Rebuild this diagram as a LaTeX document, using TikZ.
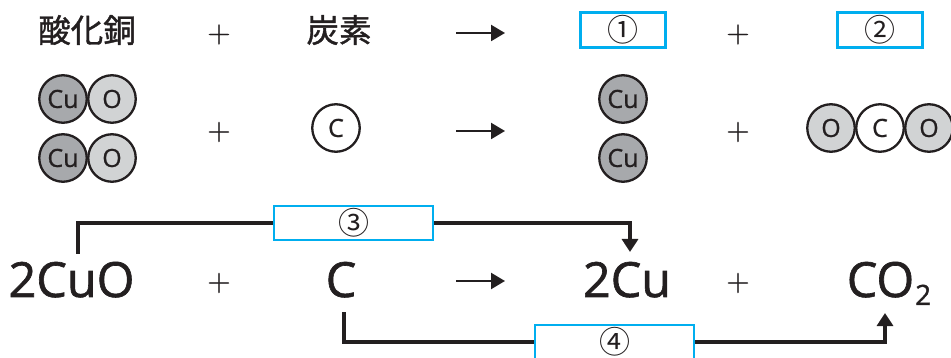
\documentclass[tikz,border=0pt]{standalone}
\usepackage{fontspec}
\setmainfont{Open Sans}
\newfontfamily\cjk{Noto Sans CJK JP}
\newfontfamily\cjkbold[FakeBold=1.2]{Noto Sans CJK JP}
\newfontfamily\heavy[FakeBold=1.3]{Open Sans}
\newfontfamily\medium[FakeBold=0.7]{Open Sans}
\newfontfamily\plusfont[FakeBold=0.8]{Latin Modern Roman}
\usetikzlibrary{arrows.meta}
\definecolor{ink}{HTML}{231F20}
\definecolor{cyanbox}{HTML}{00AEEF}
\definecolor{cugray}{HTML}{A7A9AC}
\definecolor{ogray}{HTML}{D1D3D4}
\tikzset{
  atom/.style={circle,draw=ink,line width=2.3pt,minimum size=47.5pt,inner sep=0pt,text=ink,font=\medium\fontsize{25}{25}\selectfont},
  cuatom/.style={atom,fill=cugray},
  oatom/.style={atom,fill=ogray},
  catom/.style={atom,fill=white},
  title/.style={text=ink,inner sep=0pt,font=\cjkbold\fontsize{32.5}{33}\selectfont},
  plussign/.style={text=ink,inner sep=0pt,font=\plusfont\fontsize{32}{32}\selectfont},
  formula/.style={text=ink,inner sep=0pt,anchor=base,font=\heavy\fontsize{48.5}{50}\selectfont},
  answerbox/.style={draw=cyanbox,line width=2.8pt,fill=white,inner sep=0pt,text=ink,font=\cjk\fontsize{31}{31}\selectfont},
  rxarrow/.style={draw=ink,line width=2.2pt,-{Triangle[length=14pt,width=16pt]}},
  link/.style={draw=ink,line width=3.6pt},
  linkarrow/.style={link,-{Triangle[length=13pt,width=16pt]}},
}
\begin{document}
\begin{tikzpicture}[x=1pt,y=-1pt]
\clip (0,0) rectangle (951,358);
% row 1
\node[title] (tcuo) at (87,30) {酸化銅};
\node[plussign] (p1) at (219,34.5) {+};
\node[title] (tc) at (339,30) {炭素};
\coordinate (a1s) at (456,33); \coordinate (a1e) at (505,33);
\draw[rxarrow] (a1s) -- (a1e);
\node[answerbox,minimum width=85pt,minimum height=35.5pt] (b1) at (623,30) {①};
\node[plussign] (p2) at (738,34.5) {+};
\node[answerbox,minimum width=85pt,minimum height=35.5pt] (b2) at (880,30) {②};
% row 2
\node[cuatom] (cu1) at (63,99) {Cu};
\node[oatom] (o1) at (112,99) {O};
\node[cuatom] (cu2) at (63,158) {Cu};
\node[oatom] (o2) at (112,158) {O};
\node[plussign] (p3) at (219,132) {+};
\node[catom] (c1) at (336,128) {C};
\coordinate (a2s) at (456,131); \coordinate (a2e) at (505,131);
\draw[rxarrow] (a2s) -- (a2e);
\node[cuatom] (cu3) at (623,99) {Cu};
\node[cuatom] (cu4) at (623,158) {Cu};
\node[plussign] (p4) at (738,132) {+};
\node[oatom] (o3) at (831,128) {O};
\node[oatom] (o4) at (929,128) {O};
\node[catom] (c2) at (880,128) {C};
% row 3
\node[formula] (f1) at (71.5,297) {2CuO};
\node[plussign] (p5) at (219,283) {+};
\node[formula] (f2) at (341,297) {C};
\coordinate (a3s) at (456,281); \coordinate (a3e) at (505,281);
\draw[rxarrow] (a3s) -- (a3e);
\node[formula] (f3) at (627,297) {2Cu};
\node[plussign] (p6) at (738,283) {+};
\node[formula] (f4) at (889,297) {CO\kern1pt\raisebox{-8pt}{\fontsize{28}{28}\selectfont 2}};
% connectors
\node[answerbox,minimum width=159pt,minimum height=34pt] (b3) at (353.5,223) {③};
\node[answerbox,minimum width=159pt,minimum height=36pt] (b4) at (614.5,343) {};
\node[text=ink,inner sep=0pt,font=\cjk\fontsize{31}{31}\selectfont] (n4) at (614.5,342) {④};
\coordinate (l3s) at (78,254); \coordinate (l3b) at (78,223);
\coordinate (l3t) at (630,252); \coordinate (l3c) at (630,223);
\draw[link] (l3s) -- (l3b) -- (b3.west);
\draw[linkarrow] (b3.east) -- (l3c) -- (l3t);
\coordinate (l4s) at (344,312); \coordinate (l4b) at (344,342);
\coordinate (l4t) at (885,313); \coordinate (l4c) at (885,342);
\draw[link] (l4s) -- (l4b) -- (b4.west |- l4b);
\draw[linkarrow] (b4.east |- l4c) -- (l4c) -- (l4t);
\end{tikzpicture}
\end{document}
